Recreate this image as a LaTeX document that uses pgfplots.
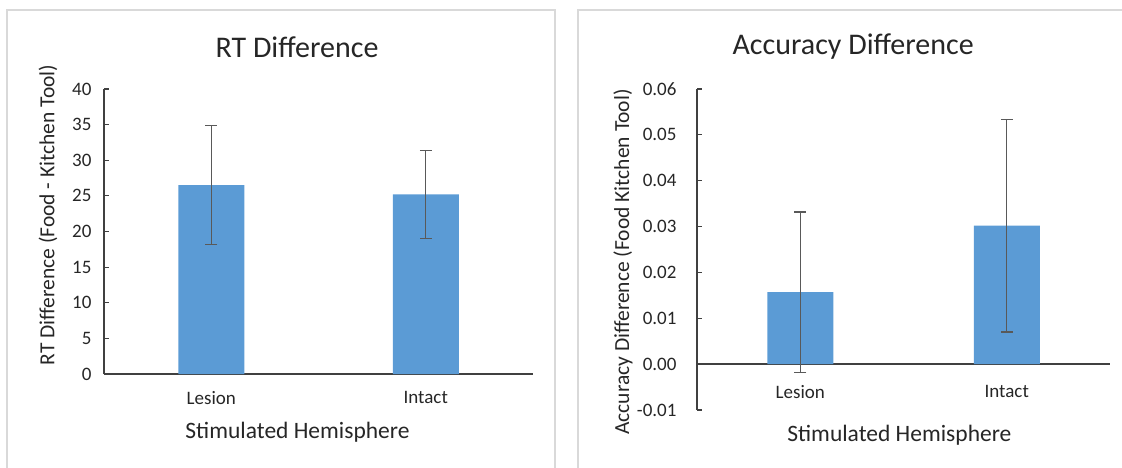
\documentclass[border=0pt]{standalone}
\usepackage{fontspec}
\setmainfont{Carlito}
\usepackage{pgfplots}
\pgfplotsset{compat=1.18}
\definecolor{barblue}{HTML}{5B9BD5}
\definecolor{axisgray}{HTML}{404040}
\definecolor{errgray}{HTML}{595959}
\definecolor{framegray}{HTML}{D9D9D9}
\definecolor{txt}{HTML}{262626}
\newcommand{\tickfont}{\fontsize{19bp}{21bp}\selectfont}
\newcommand{\ylabfont}{\fontsize{21.5bp}{24bp}\selectfont}
\newcommand{\xlabfont}{\fontsize{23.5bp}{26bp}\selectfont}
\newcommand{\titlefont}{\fontsize{30bp}{34bp}\selectfont}
\pgfplotsset{
  xlchart/.style={
    scale only axis,
    axis y line*=left,
    enlargelimits=false,
    clip=false,
    scaled y ticks=false,
    every axis title shift=0pt,
    xmin=-0.5, xmax=1.5,
    xtick={0,1},
    xticklabels={Lesion,Intact},
    major x tick style={draw=none},
    tick align=inside,
    major tick length=5bp,
    axis line style={color=axisgray, line width=1.4bp},
    major y tick style={color=axisgray, line width=1.2bp},
    tick label style={font=\tickfont, text=txt},
    /pgf/number format/assume math mode=true,
    ybar, bar width=66bp,
    title style={font=\titlefont, text=txt, anchor=center},
    xlabel style={font=\xlabfont, text=txt, anchor=center},
    ylabel style={font=\ylabfont, text=txt, anchor=center},
    error bars/error bar style={color=errgray, line width=1.3bp},
    error bars/error mark options={rotate=90, color=errgray, mark size=6bp, line width=1.3bp},
  }
}
\begin{document}
\begin{tikzpicture}
\useasboundingbox (0,0) rectangle (1122bp,468bp);
\draw[framegray, line width=1.2bp] (7bp,0) -- (7bp,458bp) -- (555bp,458bp) -- (555bp,0);
\draw[framegray, line width=1.2bp] (578bp,0) -- (578bp,458bp) -- (1122bp,458bp);

\begin{axis}[xlchart,
  at={(104bp,94bp)}, anchor=south west,
  width=429bp, height=285bp,
  axis x line*=bottom,
  ymin=0, ymax=40, ytick={0,5,...,40},
  xticklabel style={yshift=-9bp},
  yticklabel style={xshift=-9bp},
  title={RT Difference},
  title style={at={(axis description cs:0.45,1.147)}},
  xlabel={Stimulated Hemisphere},
  xlabel style={at={(axis description cs:0.451,-0.2035)}},
  ylabel={RT Difference (Food - Kitchen Tool)},
  ylabel style={at={(axis description cs:-0.1305,0.558)}},
]
\addplot[fill=barblue, draw=none,
  error bars/.cd, y dir=both, y explicit]
  coordinates {(0,26.5) +- (0,8.35) (1,25.2) +- (0,6.2)};
\end{axis}

\begin{axis}[xlchart,
  at={(697bp,58bp)}, anchor=south west,
  width=413bp, height=321bp,
  axis x line*=middle,
  ymin=-0.01, ymax=0.06,
  ytick={-0.01,0,0.01,0.02,0.03,0.04,0.05,0.06},
  yticklabels={-0.01,0.00,0.01,0.02,0.03,0.04,0.05,0.06},
  xticklabel style={yshift=-13bp},
  yticklabel style={xshift=-17bp},
  title={Accuracy Difference},
  title style={at={(axis description cs:0.378,1.131)}},
  xlabel={Stimulated Hemisphere},
  xlabel style={at={(axis description cs:0.49,-0.078)}},
  ylabel={Accuracy Difference (Food Kitchen Tool)},
  ylabel style={at={(axis description cs:-0.179,0.461)}},
]
\addplot[fill=barblue, draw=none,
  error bars/.cd, y dir=both, y explicit]
  coordinates {(0,0.0157) +- (0,0.0175) (1,0.0302) +- (0,0.0232)};
\end{axis}
\end{tikzpicture}
\end{document}
